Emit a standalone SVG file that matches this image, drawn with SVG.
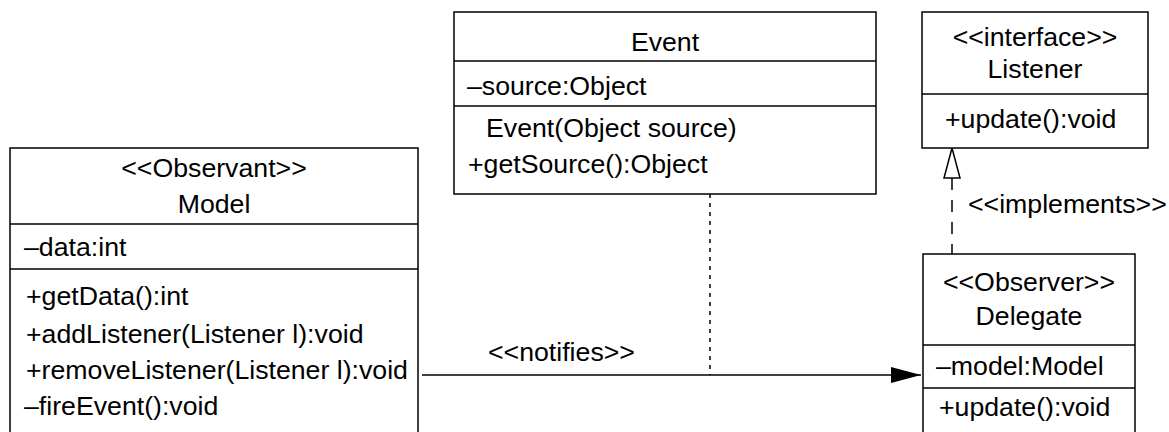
<svg xmlns="http://www.w3.org/2000/svg" width="1169" height="432" viewBox="0 0 1169 432">
<defs>
<style>
.box{fill:#fff;stroke:#000;stroke-width:1.5}
.sep{stroke:#000;stroke-width:1.5}
text{font-family:"Liberation Sans",Arial,sans-serif;font-size:26.7px;fill:#000}
.c{text-anchor:middle}
.edge{fill:none;stroke:#000;stroke-width:1.5}
</style>
<marker id="filled" markerWidth="30" markerHeight="18" refX="30" refY="9" orient="auto" markerUnits="userSpaceOnUse">
<path d="M0,1 L30,9 L0,17 Z" fill="#000"/>
</marker>
</defs>
<g id="connectors">
<line class="edge" x1="422" y1="375" x2="921" y2="375" marker-end="url(#filled)"/>
<line class="edge" x1="710" y1="194" x2="710" y2="375" stroke-dasharray="4,5"/>
<line class="edge" x1="952" y1="178" x2="952" y2="254" stroke-dasharray="12,10"/>
<path d="M952,148 L960,178 L944,178 Z" fill="#fff" stroke="#000" stroke-width="1.5"/>
<text x="488" y="361">&lt;&lt;notifies&gt;&gt;</text>
<text x="968" y="213">&lt;&lt;implements&gt;&gt;</text>
</g>
<g id="model">
<rect class="box" x="10" y="148" width="408" height="300"/>
<line class="sep" x1="10" y1="224" x2="418" y2="224"/>
<line class="sep" x1="10" y1="269" x2="418" y2="269"/>
<text class="c" x="214" y="177">&lt;&lt;Observant&gt;&gt;</text>
<text class="c" x="214" y="213">Model</text>
<text x="24" y="256">–data:int</text>
<text x="26" y="305">+getData():int</text>
<text x="26" y="343">+addListener(Listener l):void</text>
<text x="26" y="379">+removeListener(Listener l):void</text>
<text x="24" y="415">–fireEvent():void</text>
</g>
<g id="event">
<rect class="box" x="454" y="12" width="422" height="182"/>
<line class="sep" x1="454" y1="61" x2="876" y2="61"/>
<line class="sep" x1="454" y1="106" x2="876" y2="106"/>
<text class="c" x="665" y="51">Event</text>
<text x="467" y="95">–source:Object</text>
<text x="486" y="137">Event(Object source)</text>
<text x="468" y="173">+getSource():Object</text>
</g>
<g id="listener">
<rect class="box" x="922" y="12" width="226" height="136"/>
<line class="sep" x1="922" y1="94" x2="1148" y2="94"/>
<text class="c" x="1035" y="46">&lt;&lt;interface&gt;&gt;</text>
<text class="c" x="1035" y="78">Listener</text>
<text x="945" y="128">+update():void</text>
</g>
<g id="delegate">
<rect class="box" x="923" y="254" width="212" height="200"/>
<line class="sep" x1="923" y1="345" x2="1135" y2="345"/>
<line class="sep" x1="923" y1="388" x2="1135" y2="388"/>
<text class="c" x="1029" y="291">&lt;&lt;Observer&gt;&gt;</text>
<text class="c" x="1029" y="325">Delegate</text>
<text x="936" y="375">–model:Model</text>
<text x="939" y="416">+update():void</text>
</g>
</svg>
